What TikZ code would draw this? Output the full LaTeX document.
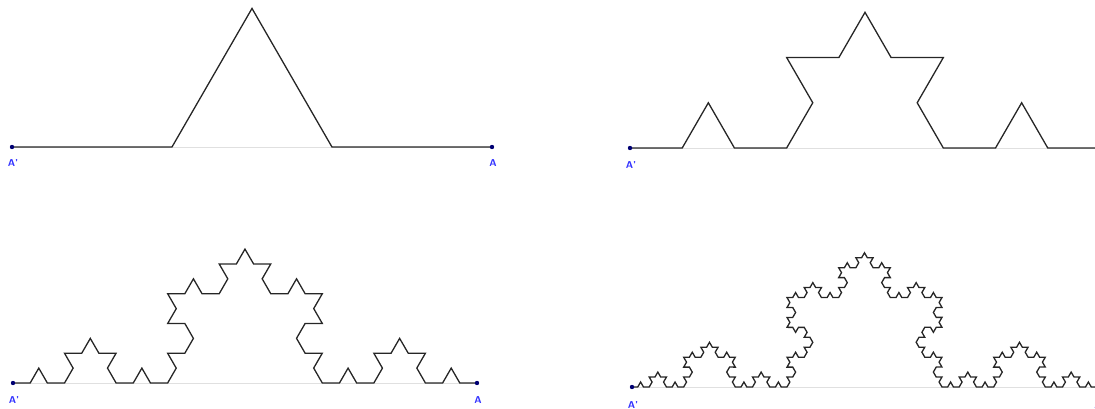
\documentclass[tikz,border=0pt]{standalone}
\usepackage{tikz}
\usetikzlibrary{decorations.fractals}

\begin{document}
\begin{tikzpicture}[x=1pt,y=-1pt,
  koch/.style={draw=black!85,line width=1.3pt,line join=miter,decoration=Koch snowflake},
  base/.style={draw=black!12,line width=0.8pt},
  ptdot/.style={fill=blue!45!black},
  ptlabel/.style={text=blue!80!white,font=\sffamily\bfseries\fontsize{10}{10}\selectfont,inner sep=0pt}]
\useasboundingbox (0,0) rectangle (1095,409);
\clip (0,0) rectangle (1095,409);
% order 1
\coordinate (a1) at (12,147);
\coordinate (b1) at (492,147);
\draw[base] (a1) -- (b1);
\draw[koch] decorate{ (a1) -- (b1) };
\fill[ptdot] (a1) circle (2.2);
\fill[ptdot] (b1) circle (2.2);
\node[ptlabel] (la1) at (13,163) {A'};
\node[ptlabel] (lb1) at (493,163) {A};
% order 2
\coordinate (a2) at (630,148);
\coordinate (b2) at (1100,148);
\draw[base] (a2) -- (b2);
\draw[koch] decorate{ decorate{ (a2) -- (b2) }};
\fill[ptdot] (a2) circle (2.2);
\node[ptlabel] (la2) at (631,165) {A'};
% order 3
\coordinate (a3) at (13,383);
\coordinate (b3) at (477,383);
\draw[base] (a3) -- (b3);
\draw[koch] decorate{ decorate{ decorate{ (a3) -- (b3) }}};
\fill[ptdot] (a3) circle (2.2);
\fill[ptdot] (b3) circle (2.2);
\node[ptlabel] (la3) at (14,400) {A'};
\node[ptlabel] (lb3) at (478,400) {A};
% order 4
\coordinate (a4) at (632,387);
\coordinate (b4) at (1097,387);
\draw[base] (a4) -- (b4);
\draw[koch] decorate{ decorate{ decorate{ decorate{ (a4) -- (b4) }}}};
\fill[ptdot] (a4) circle (2.2);
\fill[ptdot] (b4) circle (2.2);
\node[ptlabel] (la4) at (633,405) {A'};
\node[ptlabel] (lb4) at (1098,405) {A};
\end{tikzpicture}
\end{document}
